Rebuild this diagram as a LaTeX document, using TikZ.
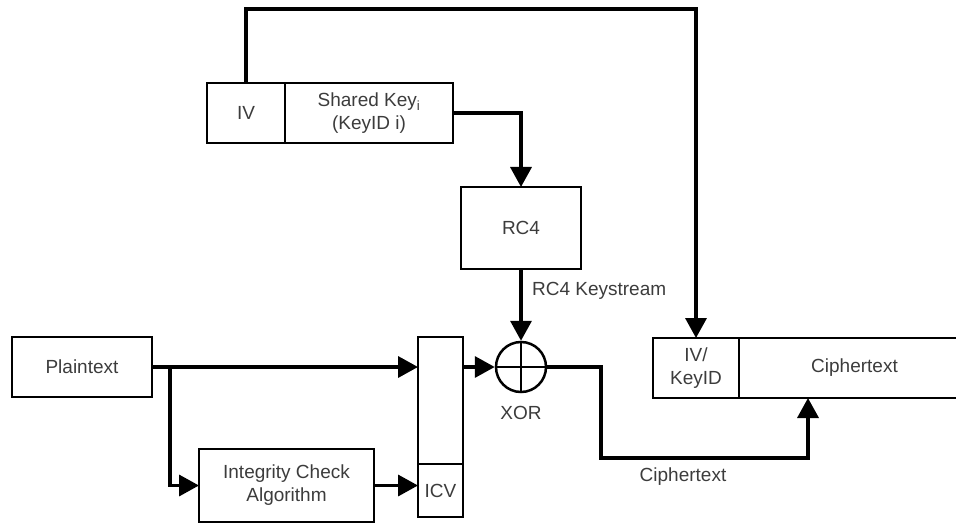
\documentclass[tikz,border=0pt]{standalone}
\usepackage{fontspec}
\setmainfont{Liberation Sans}
\usetikzlibrary{arrows.meta, positioning}
\definecolor{txtgray}{RGB}{60,60,60}

\begin{document}
\begin{tikzpicture}[
    x=1pt, y=-1pt,
    font=\fontsize{19}{23}\selectfont,
    box/.style={draw, line width=2.5pt, inner sep=0pt, outer sep=0pt,
                align=center, text=txtgray},
    cell/.style={box, minimum height=60pt},
    arr/.style={-{Triangle[length=20pt, width=21pt]}, line width=3.5pt},
    lbl/.style={text=txtgray}
  ]
  \useasboundingbox (0,0) rectangle (956,524);
  \clip (0,0) rectangle (956,524);
  % Key block
  \node[cell, minimum width=78pt] (iv) at (246,113) {IV};
  \node[cell, minimum width=168pt, right=0pt of iv] (key) {Shared Key\textsubscript{i}\\(KeyID i)};
  % RC4 and XOR
  \node[box, minimum width=120pt, minimum height=82pt] (rc4) at (521,228) {RC4};
  \node[draw, circle, line width=2.5pt, minimum size=50pt, inner sep=0pt] (xor) at (521,367) {};
  \draw[line width=1.5pt] (xor.north) -- (xor.south) (xor.west) -- (xor.east);
  \node[lbl] (xorlbl) at (521,413) {XOR};
  % Plaintext and ICV
  \node[cell, minimum width=140pt] (plain) at (82,367) {Plaintext};
  \node[box, minimum width=45pt, minimum height=127pt] (frame) at (440.5,400.5) {};
  \node[box, minimum width=45pt, minimum height=53pt, below=0pt of frame] (icv) {ICV};
  \node[box, minimum width=175pt, minimum height=73pt] (ica) at (286.5,485.5) {Integrity Check\\Algorithm};
  % Output
  \node[cell, minimum width=86pt] (ivk) at (696,368) {IV/\\KeyID};
  \node[cell, minimum width=231pt, right=0pt of ivk] (ctext) {Ciphertext};
  % Arrows
  \draw[arr] (iv.north) -- ++(0,-74) -| (ivk.north);
  \draw[arr] (key.east) -| (rc4.north);
  \draw[arr] (rc4.south) -- (xor.north) node[lbl, pos=0.3, right=6pt] {RC4 Keystream};
  \draw[arr] (plain.east) -- (plain.east -| frame.west);
  \coordinate (split) at (170,367);
  \draw[arr] (split) |- (ica.west);
  \draw[arr] (ica.east) -- (ica.east -| icv.west);
  \draw[arr] (frame.east |- xor.west) -- (xor.west);
  \coordinate (cbend) at (601,458);
  \coordinate (cin) at (808,398);
  \draw[arr] (xor.east) -| (cbend) -| (cin);
  \node[lbl] (ctlbl) at (683,477) {Ciphertext};
\end{tikzpicture}
\end{document}
